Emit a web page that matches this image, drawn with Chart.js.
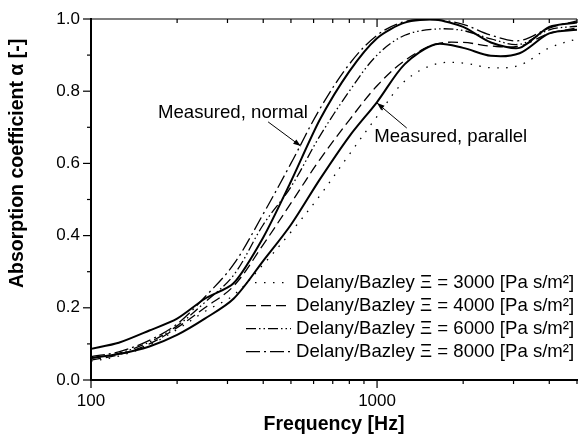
<!DOCTYPE html>
<html>
<head>
<meta charset="utf-8">
<script src="https://cdn.jsdelivr.net/npm/chart.js@4.4.0/dist/chart.umd.min.js"></script>
<style>
  html,body{margin:0;padding:0;background:#fff;}
  #wrap{width:580px;height:442px;position:relative;}
</style>
</head>
<body>
<div id="wrap"><canvas id="c"></canvas></div>
<script>
const FONT = 'Arial, "Liberation Sans", sans-serif';

// 1/3 octave centre frequencies [Hz]
const freq = [100,125,160,200,250,315,400,500,630,800,1000,1250,1600,2000,2500,3150,4000,5000];

// measured absorption coefficient
const measNormal   = [0.086,0.103,0.137,0.170,0.225,0.268,0.395,0.550,0.720,0.855,0.947,0.990,0.998,0.978,0.935,0.920,0.978,0.990];
const measParallel = [0.061,0.072,0.093,0.125,0.170,0.225,0.330,0.430,0.555,0.675,0.770,0.875,0.930,0.920,0.898,0.905,0.960,0.970];

// Delany/Bazley model, flow resistivity 3000 / 4000 / 6000 / 8000 Pa s/m²
const db3000 = [0.052,0.066,0.097,0.140,0.190,0.235,0.320,0.410,0.510,0.625,0.730,0.828,0.875,0.878,0.865,0.872,0.920,0.945];
const db4000 = [0.055,0.070,0.100,0.145,0.200,0.260,0.375,0.490,0.610,0.720,0.815,0.885,0.930,0.935,0.925,0.925,0.960,0.975];
const db6000 = [0.060,0.074,0.105,0.150,0.215,0.290,0.430,0.535,0.675,0.800,0.900,0.955,0.972,0.968,0.945,0.930,0.970,0.980];
const db8000 = [0.065,0.078,0.110,0.155,0.230,0.320,0.460,0.600,0.750,0.875,0.955,0.993,0.998,0.985,0.955,0.940,0.975,0.995];

const dbLabels = [
  'Delany/Bazley \u039E = 3000 [Pa s/m\u00B2]',
  'Delany/Bazley \u039E = 4000 [Pa s/m\u00B2]',
  'Delany/Bazley \u039E = 6000 [Pa s/m\u00B2]',
  'Delany/Bazley \u039E = 8000 [Pa s/m\u00B2]'
];
const dbDash = [[1.5,7.5],[10,5],[10,3,1.5,3,1.5,3],[14,4,2,4]];

const xTickVals = [100,200,300,400,500,600,700,800,900,1000,2000,3000,4000,5000];
const xLabelVals = [100,1000];
const yTickVals = [0,0.1,0.2,0.3,0.4,0.5,0.6,0.7,0.8,0.9,1.0];
const yTitle = 'Absorption coefficient \u03B1 [-]';

const pts = arr => freq.map((f,i)=>({x:f, y:arr[i]}));

const datasets = [db3000,db4000,db6000,db8000].map((arr,i)=>({
  label: dbLabels[i], data: pts(arr), borderColor:'#000', borderWidth:1.3,
  borderDash: dbDash[i], tension:0.35, pointRadius:0, fill:false
}));
datasets.push({label:'Measured, normal', data:pts(measNormal), borderColor:'#000', borderWidth:2, tension:0.25, pointRadius:0, fill:false});
datasets.push({label:'Measured, parallel', data:pts(measParallel), borderColor:'#000', borderWidth:2, tension:0.3, pointRadius:0, fill:false});

// annotation anchors in data units
const noteNormal   = {text:'Measured, normal',   x:573, y:0.726, from:[416,0.715], to:[541,0.648], align:'right'};
const noteParallel = {text:'Measured, parallel', x:978, y:0.659, from:[1270,0.698], to:[1000,0.767], align:'left'};

function arrow(ctx, x1,y1,x2,y2){
  ctx.beginPath(); ctx.moveTo(x1,y1); ctx.lineTo(x2,y2); ctx.stroke();
  const a = Math.atan2(y2-y1,x2-x1), L = 8, w = 0.35;
  ctx.beginPath();
  ctx.moveTo(x2,y2);
  ctx.lineTo(x2-L*Math.cos(a-w), y2-L*Math.sin(a-w));
  ctx.lineTo(x2-L*Math.cos(a+w), y2-L*Math.sin(a+w));
  ctx.closePath(); ctx.fill();
}

const extras = {
  id:'extras',
  afterDraw(chart){
    const {ctx, chartArea:a, scales:{x,y}} = chart;
    ctx.save();
    ctx.strokeStyle='#000'; ctx.fillStyle='#000'; ctx.lineWidth=1.2; ctx.setLineDash([]);
    // top frame line
    ctx.beginPath(); ctx.moveTo(a.left,a.top); ctx.lineTo(a.right,a.top); ctx.stroke();
    // x ticks (bottom out, top in)
    xTickVals.forEach(v=>{
      const px = x.getPixelForValue(v), len = xLabelVals.includes(v) ? 8 : 4;
      ctx.beginPath();
      ctx.moveTo(px,a.bottom); ctx.lineTo(px,a.bottom+len);
      ctx.moveTo(px,a.top); ctx.lineTo(px,a.top+len);
      ctx.stroke();
    });
    // y ticks
    yTickVals.forEach((v,i)=>{
      const py = y.getPixelForValue(v), len = i%2===0 ? 8 : 4;
      ctx.beginPath(); ctx.moveTo(a.left-len,py); ctx.lineTo(a.left,py); ctx.stroke();
    });

    // y axis title (sits a bit above the axis centre in the original)
    ctx.save();
    ctx.translate(18, y.getPixelForValue(0.6));
    ctx.rotate(-Math.PI/2);
    ctx.font = 'bold 19.5px ' + FONT; ctx.textAlign='center'; ctx.textBaseline='middle';
    ctx.fillText(yTitle, 0, 0);
    ctx.restore();

    // legend, bottom right inside plot
    ctx.font = '18.6px ' + FONT; ctx.textBaseline='middle'; ctx.textAlign='left';
    const ly0 = y.getPixelForValue(0.27), step = 23;
    dbLabels.forEach((lab,i)=>{
      const yy = ly0 + i*step;
      ctx.lineWidth = 1.3; ctx.setLineDash(dbDash[i]);
      ctx.beginPath(); ctx.moveTo(246,yy); ctx.lineTo(291,yy); ctx.stroke();
      ctx.setLineDash([]);
      ctx.fillText(lab, 296, yy);
    });

    // annotations
    ctx.textBaseline='alphabetic'; ctx.lineWidth=1;
    [noteNormal,noteParallel].forEach(n=>{
      ctx.textAlign = n.align;
      ctx.fillText(n.text, x.getPixelForValue(n.x), y.getPixelForValue(n.y));
      arrow(ctx, x.getPixelForValue(n.from[0]), y.getPixelForValue(n.from[1]),
                 x.getPixelForValue(n.to[0]),   y.getPixelForValue(n.to[1]));
    });
    ctx.restore();
  }
};

new Chart(document.getElementById('c'), {
  type:'line',
  data:{datasets},
  options:{
    responsive:true, maintainAspectRatio:false, animation:false,
    layout:{padding:{top:19,right:0,left:0,bottom:0}},
    plugins:{legend:{display:false}, tooltip:{enabled:false}},
    scales:{
      x:{
        type:'logarithmic', min:100, max:5000,
        afterBuildTicks: s => { s.ticks = xTickVals.map(v=>({value:v})); },
        afterFit: s => { s.height = 62; },
        ticks:{autoSkip:false, maxRotation:0, padding:3, color:'#000',
          font:{size:17, family:FONT},
          callback: v => xLabelVals.includes(v) ? String(v) : ''},
        grid:{display:true, drawOnChartArea:false, tickLength:8, tickColor:'rgba(0,0,0,0)'},
        border:{display:true, color:'#000', width:2},
        title:{display:true, text:'Frequency [Hz]', color:'#000',
          font:{size:19.5, weight:'bold', family:FONT}, padding:6}
      },
      y:{
        min:0, max:1,
        afterBuildTicks: s => { s.ticks = yTickVals.map(v=>({value:v})); },
        afterFit: s => { s.width = 91; },
        ticks:{padding:3, color:'#000', font:{size:17, family:FONT},
          callback: (v,i) => i%2===0 ? v.toFixed(1) : ''},
        grid:{display:true, drawOnChartArea:false, tickLength:8, tickColor:'rgba(0,0,0,0)'},
        border:{display:true, color:'#000', width:2},
        title:{display:false}
      }
    }
  },
  plugins:[extras]
});
</script>
</body>
</html>
